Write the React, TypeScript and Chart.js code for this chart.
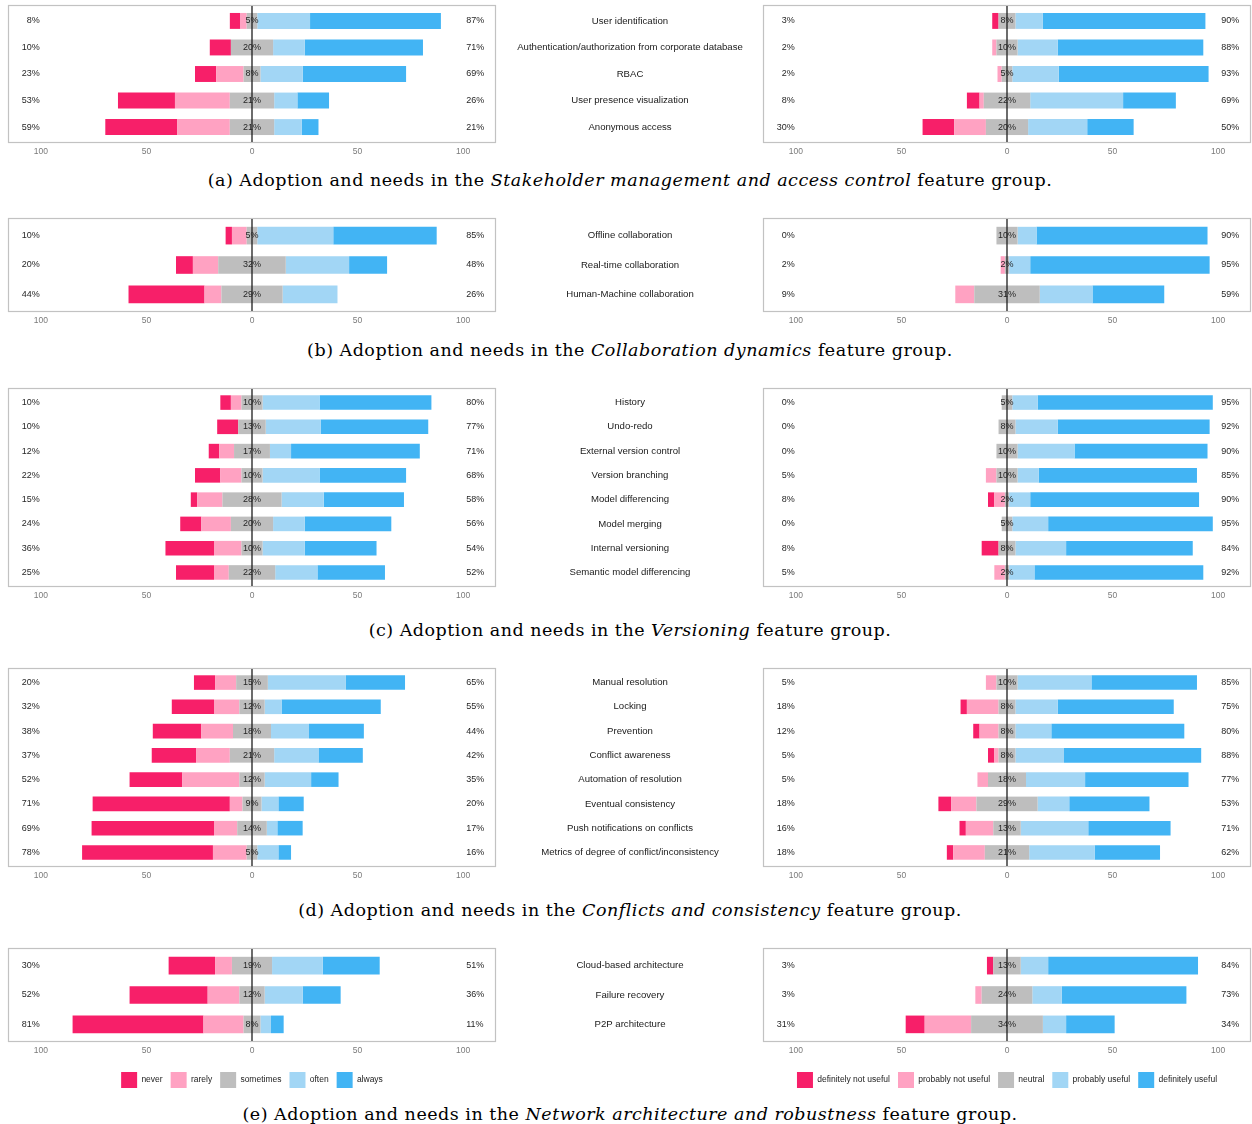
import React, { useEffect, useRef } from 'react';
import { Chart, registerables } from 'chart.js';

Chart.register(...registerables);

// ---------- levels, colours ----------
const ADOPTION_LEVELS = ['never', 'rarely', 'sometimes', 'often', 'always'];
const NEED_LEVELS = ['definitely not useful', 'probably not useful', 'neutral', 'probably useful', 'definitely useful'];
const LEVEL_COLORS = ['#F71F69', '#FFA2C2', '#BEBEBE', '#A2D6F5', '#42B4F4'];
const X_TICKS = [-100, -50, 0, 50, 100];

// ---------- (a) Stakeholder management and access control ----------
const featuresA = ['User identification', 'Authentication/authorization from corporate database', 'RBAC', 'User presence visualization', 'Anonymous access'];
const adoptNeverA = [5, 10, 10, 27, 34];
const adoptRarelyA = [3, 0, 13, 26, 25];
const adoptSometimesA = [5, 20, 8, 21, 21];
const adoptOftenA = [25, 15, 20, 11, 13];
const adoptAlwaysA = [62, 56, 49, 15, 8];
const needDefNotA = [3, 0, 0, 6, 15];
const needProbNotA = [0, 2, 2, 2, 15];
const needNeutralA = [8, 10, 5, 22, 20];
const needProbA = [13, 19, 22, 44, 28];
const needDefA = [77, 69, 71, 25, 22];

// ---------- (b) Collaboration dynamics ----------
const featuresB = ['Offline collaboration', 'Real-time collaboration', 'Human-Machine collaboration'];
const adoptNeverB = [3, 8, 36];
const adoptRarelyB = [7, 12, 8];
const adoptSometimesB = [5, 32, 29];
const adoptOftenB = [36, 30, 26];
const adoptAlwaysB = [49, 18, 0];
const needDefNotB = [0, 0, 0];
const needProbNotB = [0, 2, 9];
const needNeutralB = [10, 2, 31];
const needProbB = [9, 10, 25];
const needDefB = [81, 85, 34];

// ---------- (c) Versioning ----------
const featuresC = ['History', 'Undo-redo', 'External version control', 'Version branching', 'Model differencing', 'Model merging', 'Internal versioning', 'Semantic model differencing'];
const adoptNeverC = [5, 10, 5, 12, 3, 10, 23, 18];
const adoptRarelyC = [5, 0, 7, 10, 12, 14, 13, 7];
const adoptSometimesC = [10, 13, 17, 10, 28, 20, 10, 22];
const adoptOftenC = [27, 26, 10, 27, 20, 15, 20, 20];
const adoptAlwaysC = [53, 51, 61, 41, 38, 41, 34, 32];
const needDefNotC = [0, 0, 0, 0, 3, 0, 8, 0];
const needProbNotC = [0, 0, 0, 5, 5, 0, 0, 5];
const needNeutralC = [5, 8, 10, 10, 2, 5, 8, 2];
const needProbC = [12, 20, 27, 10, 10, 17, 24, 12];
const needDefC = [83, 72, 63, 75, 80, 78, 60, 80];

// ---------- (d) Conflicts and consistency ----------
const featuresD = ['Manual resolution', 'Locking', 'Prevention', 'Conflict awareness', 'Automation of resolution', 'Eventual consistency', 'Push notifications on conflicts', 'Metrics of degree of conflict/inconsistency'];
const adoptNeverD = [10, 20, 23, 21, 25, 65, 58, 62];
const adoptRarelyD = [10, 12, 15, 16, 27, 6, 11, 16];
const adoptSometimesD = [15, 12, 18, 21, 12, 9, 14, 5];
const adoptOftenD = [37, 8, 18, 21, 22, 8, 5, 10];
const adoptAlwaysD = [28, 47, 26, 21, 13, 12, 12, 6];
const needDefNotD = [0, 3, 3, 3, 0, 6, 3, 3];
const needProbNotD = [5, 15, 9, 2, 5, 12, 13, 15];
const needNeutralD = [10, 8, 8, 8, 18, 29, 13, 21];
const needProbD = [35, 20, 17, 23, 28, 15, 32, 31];
const needDefD = [50, 55, 63, 65, 49, 38, 39, 31];

// ---------- (e) Network architecture and robustness ----------
const featuresE = ['Cloud-based architecture', 'Failure recovery', 'P2P architecture'];
const adoptNeverE = [22, 37, 62];
const adoptRarelyE = [8, 15, 19];
const adoptSometimesE = [19, 12, 8];
const adoptOftenE = [24, 18, 5];
const adoptAlwaysE = [27, 18, 6];
const needDefNotE = [3, 0, 9];
const needProbNotE = [0, 3, 22];
const needNeutralE = [13, 24, 34];
const needProbE = [13, 14, 11];
const needDefE = [71, 59, 23];

const PANELS = [
  { id: 'a', top: 5, boxH: 138, captionY: 180, topic: 'Stakeholder management and access control', features: featuresA,
    adoption: [adoptNeverA, adoptRarelyA, adoptSometimesA, adoptOftenA, adoptAlwaysA],
    needs: [needDefNotA, needProbNotA, needNeutralA, needProbA, needDefA] },
  { id: 'b', top: 218, boxH: 94, captionY: 350, topic: 'Collaboration dynamics', features: featuresB,
    adoption: [adoptNeverB, adoptRarelyB, adoptSometimesB, adoptOftenB, adoptAlwaysB],
    needs: [needDefNotB, needProbNotB, needNeutralB, needProbB, needDefB] },
  { id: 'c', top: 388, boxH: 199, captionY: 630, topic: 'Versioning', features: featuresC,
    adoption: [adoptNeverC, adoptRarelyC, adoptSometimesC, adoptOftenC, adoptAlwaysC],
    needs: [needDefNotC, needProbNotC, needNeutralC, needProbC, needDefC] },
  { id: 'd', top: 668, boxH: 199, captionY: 910, topic: 'Conflicts and consistency', features: featuresD,
    adoption: [adoptNeverD, adoptRarelyD, adoptSometimesD, adoptOftenD, adoptAlwaysD],
    needs: [needDefNotD, needProbNotD, needNeutralD, needProbD, needDefD] },
  { id: 'e', top: 948, boxH: 94, captionY: 1114, topic: 'Network architecture and robustness', features: featuresE,
    adoption: [adoptNeverE, adoptRarelyE, adoptSometimesE, adoptOftenE, adoptAlwaysE],
    needs: [needDefNotE, needProbNotE, needNeutralE, needProbE, needDefE], legend: true },
];

// ---------- layout ----------
const SANS = '"Liberation Sans", Arial, Helvetica, sans-serif';
const AREA_W = 488;
const LEFT_X = 6;
const LEFT_W = 754;
const RIGHT_X = 761;
const RIGHT_W = 491;
const CENTER_LABEL_X = 630;
const AXIS_H = 20;
const AXIS_H_LEGEND = 22;
const LEGEND_H = 34;
const LEGEND_RANK = [2, 1, 0, 9, 3, 4];

const decorPlugin = {
  id: 'likertDecor',
  afterDatasetsDraw(chart: any, _args: any, opts: any) {
    const { ctx, chartArea: a } = chart;
    const xs = chart.scales.x;
    const ys = chart.scales.y;
    ctx.save();
    // panel border
    ctx.strokeStyle = '#C2C2C2';
    ctx.lineWidth = 1.2;
    ctx.strokeRect(a.left + 0.5, a.top + 0.5, a.right - a.left - 1, a.bottom - a.top - 1);
    // zero line
    const x0 = xs.getPixelForValue(0);
    ctx.strokeStyle = '#1E1E1E';
    ctx.lineWidth = 1.3;
    ctx.beginPath();
    ctx.moveTo(x0, a.top + 1);
    ctx.lineTo(x0, a.bottom - 1);
    ctx.stroke();
    // texts
    ctx.fillStyle = '#262626';
    ctx.textBaseline = 'middle';
    ctx.font = `9px ${SANS}`;
    const xl = xs.getPixelForValue(-100.5);
    const xr = xs.getPixelForValue(101.5);
    opts.leftLabels.forEach((t: string, i: number) => {
      const y = ys.getPixelForValue(i);
      ctx.textAlign = 'right';
      ctx.fillText(t, xl, y);
      ctx.textAlign = 'left';
      ctx.fillText(opts.rightLabels[i], xr, y);
      ctx.textAlign = 'center';
      ctx.fillText(opts.neutralLabels[i], x0, y);
    });
    if (opts.features) {
      ctx.font = `9.6px ${SANS}`;
      ctx.fillStyle = '#1A1A1A';
      ctx.textAlign = 'center';
      opts.features.forEach((f: string, i: number) => {
        ctx.fillText(f, opts.centerX, ys.getPixelForValue(i));
      });
    }
    ctx.restore();
  },
};

function LikertPanel(props: any) {
  const { x, width, padRight, top, boxH, levels, series, features, showFeatures, showLegend } = props;
  const ref = useRef<HTMLCanvasElement>(null);
  const axisH = showLegend ? AXIS_H_LEGEND : AXIS_H;
  const height = 2 + boxH + axisH + (showLegend ? LEGEND_H : 0);

  useEffect(() => {
    const canvas = ref.current;
    if (!canvas) return;
    const [neg2, neg1, neu, pos1, pos2] = series as number[][];
    const rows = features.length;
    const mk = (arr: number[], f: number) => arr.map((v, i) => ({ x: v * f, y: i }));
    const ds = (label: string, data: any[], color: string) => ({
      label, data, backgroundColor: color, borderWidth: 0,
      categoryPercentage: 1, barPercentage: 0.6,
    });
    const chart = new Chart(canvas, {
      type: 'bar',
      data: {
        datasets: [
          ds(levels[2], mk(neu, -0.5), LEVEL_COLORS[2]),
          ds(levels[1], mk(neg1, -1), LEVEL_COLORS[1]),
          ds(levels[0], mk(neg2, -1), LEVEL_COLORS[0]),
          ds(levels[2], mk(neu, 0.5), LEVEL_COLORS[2]),
          ds(levels[3], mk(pos1, 1), LEVEL_COLORS[3]),
          ds(levels[4], mk(pos2, 1), LEVEL_COLORS[4]),
        ],
      } as any,
      options: {
        indexAxis: 'y',
        responsive: false,
        animation: false,
        layout: { padding: { top: 2, left: 2, right: padRight, bottom: 0 } },
        scales: {
          x: {
            type: 'linear', stacked: true, min: -115.6, max: 115.6,
            grid: { display: false, drawTicks: false },
            border: { display: false },
            afterBuildTicks: (s: any) => { s.ticks = X_TICKS.map((v) => ({ value: v })); },
            afterFit: (s: any) => { s.height = axisH; },
            ticks: {
              padding: 4, color: '#7A7A7A', autoSkip: false, maxRotation: 0,
              font: { size: 8.5, family: SANS },
              callback: (v: any) => String(Math.abs(Number(v))),
            },
          },
          y: {
            type: 'linear', stacked: true, reverse: true, offset: false,
            min: -0.6, max: rows - 0.4, display: false,
            afterBuildTicks: (s: any) => { s.ticks = features.map((_: any, i: number) => ({ value: i })); },
          },
        },
        plugins: {
          tooltip: { enabled: false },
          legend: showLegend ? {
            display: true, position: 'bottom',
            labels: {
              boxWidth: 16, boxHeight: 16, padding: 8, color: '#222',
              font: { size: 8.5, family: SANS },
              filter: (item: any) => item.datasetIndex !== 3,
              sort: (a: any, b: any) => LEGEND_RANK[a.datasetIndex] - LEGEND_RANK[b.datasetIndex],
            },
          } : { display: false },
          likertDecor: {
            leftLabels: neg2.map((v, i) => `${v + neg1[i]}%`),
            rightLabels: pos1.map((v, i) => `${v + pos2[i]}%`),
            neutralLabels: neu.map((v) => `${v}%`),
            features: showFeatures ? features : null,
            centerX: CENTER_LABEL_X - x,
          },
        },
      } as any,
      plugins: [decorPlugin],
    });
    return () => chart.destroy();
  }, []);

  return (
    <canvas
      ref={ref}
      width={width}
      height={height}
      style={{ position: 'absolute', left: x, top: top - 2, width, height }}
    />
  );
}

export default function App() {
  return (
    <div style={{ position: 'absolute', left: 0, top: 0, width: 1252, height: 1124, overflow: 'hidden', background: '#fff' }}>
      {PANELS.map((p) => (
        <React.Fragment key={p.id}>
          <LikertPanel
            x={LEFT_X} width={LEFT_W} padRight={LEFT_W - 2 - AREA_W}
            top={p.top} boxH={p.boxH} levels={ADOPTION_LEVELS} series={p.adoption}
            features={p.features} showFeatures={true} showLegend={!!p.legend}
          />
          <LikertPanel
            x={RIGHT_X} width={RIGHT_W} padRight={RIGHT_W - 2 - AREA_W}
            top={p.top} boxH={p.boxH} levels={NEED_LEVELS} series={p.needs}
            features={p.features} showFeatures={false} showLegend={!!p.legend}
          />
          <div
            style={{
              position: 'absolute', left: 0, width: 1260, top: p.captionY - 12, height: 24, lineHeight: '24px',
              textAlign: 'center', fontFamily: '"DejaVu Serif", serif', fontSize: 17.5, letterSpacing: '0.5px',
              color: '#000', whiteSpace: 'nowrap',
            }}
          >
            ({p.id}) Adoption and needs in the <i>{p.topic}</i> feature group.
          </div>
        </React.Fragment>
      ))}
    </div>
  );
}
